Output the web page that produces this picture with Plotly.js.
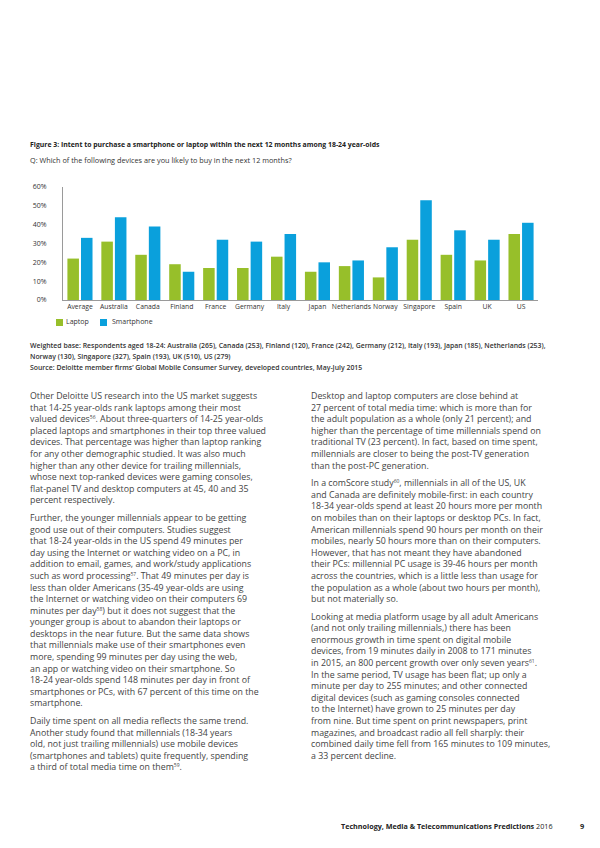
<!DOCTYPE html>
<html>
<head>
<meta charset="utf-8">
<script src="https://cdn.plot.ly/plotly-3.0.1.min.js"></script>
<style>
  html, body { margin:0; padding:0; background:#fff; }
  #page { position:relative; width:600px; height:848px; overflow:hidden; font-family:"Open Sans", "Noto Sans", sans-serif; color:#333; }
  #chart { position:absolute; left:0; top:0; width:600px; height:848px; }
  .t { position:absolute; white-space:nowrap; }
  .col { position:absolute; white-space:nowrap; font-size:8.8px; line-height:11.6px; color:#444; }
  .col p { margin:0 0 6px 0; }
  sup { font-size:5px; line-height:0; vertical-align:3px; }
  .lg { position:absolute; font-size:7px; color:#333; }
  .sw { position:absolute; width:7px; height:7px; }
</style>
</head>
<body>
<div id="page">
  <div id="chart"></div>
  <div class="t" style="left:30px; top:140px; font-size:6.9px; font-weight:700; color:#222;">Figure 3: Intent to purchase a smartphone or laptop within the next 12 months among 18-24 year-olds</div>
  <div class="t" style="left:30px; top:155px; font-size:7.3px; color:#333;">Q: Which of the following devices are you likely to buy in the next 12 months?</div>

  <div class="sw" style="left:56px; top:319px; background:#97bf2a;"></div>
  <div class="lg" style="left:66px; top:317px;">Laptop</div>
  <div class="sw" style="left:100px; top:319px; background:#0aa0dc;"></div>
  <div class="lg" style="left:112px; top:317px;">Smartphone</div>

  <div class="t" style="left:30px; top:341px; font-size:6.9px; line-height:10.8px; font-weight:600; color:#333;">Weighted base: Respondents aged 18-24: Australia (265), Canada (253), Finland (120), France (242), Germany (212), Italy (193), Japan (185), Netherlands (253),<br>Norway (130), Singapore (327), Spain (193), UK (510), US (279)<br>Source: Deloitte member firms’ Global Mobile Consumer Survey, developed countries, May-July 2015</div>

  <div class="col" style="left:30px; top:391px;">
    <p>Other Deloitte US research into the US market suggests<br>that 14-25 year-olds rank laptops among their most<br>valued devices<sup>56</sup>. About three-quarters of 14-25 year-olds<br>placed laptops and smartphones in their top three valued<br>devices. That percentage was higher than laptop ranking<br>for any other demographic studied. It was also much<br>higher than any other device for trailing millennials,<br>whose next top-ranked devices were gaming consoles,<br>flat-panel TV and desktop computers at 45, 40 and 35<br>percent respectively.</p>
    <p>Further, the younger millennials appear to be getting<br>good use out of their computers. Studies suggest<br>that 18-24 year-olds in the US spend 49 minutes per<br>day using the Internet or watching video on a PC, in<br>addition to email, games, and work/study applications<br>such as word processing<sup>57</sup>. That 49 minutes per day is<br>less than older Americans (35-49 year-olds are using<br>the Internet or watching video on their computers 69<br>minutes per day<sup>58</sup>) but it does not suggest that the<br>younger group is about to abandon their laptops or<br>desktops in the near future. But the same data shows<br>that millennials make use of their smartphones even<br>more, spending 99 minutes per day using the web,<br>an app or watching video on their smartphone. So<br>18-24 year-olds spend 148 minutes per day in front of<br>smartphones or PCs, with 67 percent of this time on the<br>smartphone.</p>
    <p>Daily time spent on all media reflects the same trend.<br>Another study found that millennials (18-34 years<br>old, not just trailing millennials) use mobile devices<br>(smartphones and tablets) quite frequently, spending<br>a third of total media time on them<sup>59</sup>.</p>
  </div>

  <div class="col" style="left:311px; top:391px;">
    <p>Desktop and laptop computers are close behind at<br>27 percent of total media time: which is more than for<br>the adult population as a whole (only 21 percent); and<br>higher than the percentage of time millennials spend on<br>traditional TV (23 percent). In fact, based on time spent,<br>millennials are closer to being the post-TV generation<br>than the post-PC generation.</p>
    <p>In a comScore study<sup>60</sup>, millennials in all of the US, UK<br>and Canada are definitely mobile-first: in each country<br>18-34 year-olds spend at least 20 hours more per month<br>on mobiles than on their laptops or desktop PCs. In fact,<br>American millennials spend 90 hours per month on their<br>mobiles, nearly 50 hours more than on their computers.<br>However, that has not meant they have abandoned<br>their PCs: millennial PC usage is 39-46 hours per month<br>across the countries, which is a little less than usage for<br>the population as a whole (about two hours per month),<br>but not materially so.</p>
    <p>Looking at media platform usage by all adult Americans<br>(and not only trailing millennials,) there has been<br>enormous growth in time spent on digital mobile<br>devices, from 19 minutes daily in 2008 to 171 minutes<br>in 2015, an 800 percent growth over only seven years<sup>61</sup>.<br>In the same period, TV usage has been flat; up only a<br>minute per day to 255 minutes; and other connected<br>digital devices (such as gaming consoles connected<br>to the Internet) have grown to 25 minutes per day<br>from nine. But time spent on print newspapers, print<br>magazines, and broadcast radio all fell sharply: their<br>combined daily time fell from 165 minutes to 109 minutes,<br>a 33 percent decline.</p>
  </div>

  <div class="t" style="left:341px; top:821px; font-size:7.2px; color:#222;"><b>Technology, Media &amp; Telecommunications Predictions</b> 2016</div>
  <div class="t" style="left:580px; top:821px; font-size:7.4px; font-weight:700; color:#222;">9</div>
</div>
<script>
const categories = ["Average","Australia","Canada","Finland","France","Germany","Italy","Japan","Netherlands","Norway","Singapore","Spain","UK","US"];
const laptop     = [22, 31, 24, 19, 17, 17, 23, 15, 18, 12, 32, 24, 21, 35];
const smartphone = [33, 44, 39, 15, 32, 31, 35, 20, 21, 28, 53, 37, 32, 41];
const yTicks = [0, 10, 20, 30, 40, 50, 60];
const yTickLabels = yTicks.map(v => v + "%");

const data = [
  { type:"bar", name:"Laptop", x:categories, y:laptop, marker:{color:"#97bf2a"}, hoverinfo:"x+y" },
  { type:"bar", name:"Smartphone", x:categories, y:smartphone, marker:{color:"#0aa0dc"}, hoverinfo:"x+y" }
];
const layout = {
  width:600, height:848,
  margin:{l:63, r:62, t:187, b:548, pad:0},
  paper_bgcolor:"rgba(0,0,0,0)", plot_bgcolor:"rgba(0,0,0,0)",
  showlegend:false,
  barmode:"group", bargap:0.2, bargroupgap:0.15,
  font:{family:"Open Sans, Noto Sans, sans-serif", size:7, color:"#333"},
  xaxis:{ showline:true, linecolor:"#9a9a9a", linewidth:1, ticks:"", showgrid:false, zeroline:false, tickangle:0, tickfont:{size:6.8, color:"#333"}, fixedrange:true },
  yaxis:{ range:[0,60], tickvals:yTicks, ticktext:yTickLabels, showline:true, linecolor:"#9a9a9a", linewidth:1, ticks:"", showgrid:false, zeroline:false, ticklabelstandoff:14, tickfont:{size:7, color:"#333"}, fixedrange:true }
};
Plotly.newPlot("chart", data, layout, {displayModeBar:false, staticPlot:true});
</script>
</body>
</html>
